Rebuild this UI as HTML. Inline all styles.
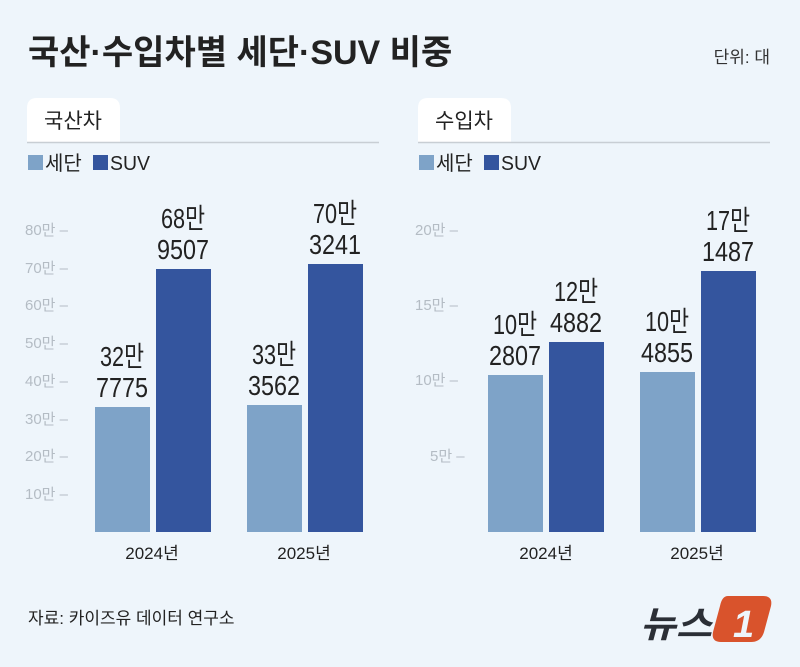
<!DOCTYPE html>
<html><head><meta charset="utf-8"><style>
body{margin:0;background:#eef5fb;}
svg text{font-family:"Liberation Sans","Noto Sans CJK KR",sans-serif;}
</style></head><body>
<svg width="800" height="662" viewBox="0 0 800 662" xmlns="http://www.w3.org/2000/svg">
<rect width="800" height="662" fill="#eef5fb"/>
<text x="28" y="64" font-size="34" font-weight="bold" fill="#222">국산·수입차별 세단·SUV 비중</text>
<text x="770" y="63" font-size="17" fill="#333" text-anchor="end">단위: 대</text>
<path d="M27 142 V108 Q27 98 37 98 H110 Q120 98 120 108 V142 Z" fill="#fff"/>
<line x1="27" y1="142.5" x2="379" y2="142.5" stroke="#c8ced4" stroke-width="1.5"/>
<text x="44" y="128" font-size="21" fill="#222">국산차</text>
<path d="M418 142 V108 Q418 98 428 98 H501 Q511 98 511 108 V142 Z" fill="#fff"/>
<line x1="418" y1="142.5" x2="770" y2="142.5" stroke="#c8ced4" stroke-width="1.5"/>
<text x="435" y="128" font-size="21" fill="#222">수입차</text>
<rect x="28" y="155" width="15" height="15" fill="#7ea3c8"/><text x="45" y="170" font-size="20" fill="#222">세단</text>
<rect x="93" y="155" width="15" height="15" fill="#34559e"/><text x="110" y="170" font-size="20" fill="#222" textLength="40" lengthAdjust="spacingAndGlyphs">SUV</text>
<rect x="419" y="155" width="15" height="15" fill="#7ea3c8"/><text x="436" y="170" font-size="20" fill="#222">세단</text>
<rect x="484" y="155" width="15" height="15" fill="#34559e"/><text x="501" y="170" font-size="20" fill="#222" textLength="40" lengthAdjust="spacingAndGlyphs">SUV</text>
<g font-size="15" fill="#b4bcc4">
<text x="25" y="235">80만 –</text><text x="25" y="273">70만 –</text><text x="25" y="310">60만 –</text><text x="25" y="348">50만 –</text><text x="25" y="386">40만 –</text><text x="25" y="424">30만 –</text><text x="25" y="461">20만 –</text><text x="25" y="499">10만 –</text>
<text x="415" y="235">20만 –</text><text x="415" y="310">15만 –</text><text x="415" y="385">10만 –</text><text x="430" y="461">5만 –</text>
</g>
<rect x="95" y="407" width="55" height="125" fill="#7ea3c8"/>
<rect x="156" y="269" width="55" height="263" fill="#34559e"/>
<rect x="247" y="405" width="55" height="127" fill="#7ea3c8"/>
<rect x="308" y="264" width="55" height="268" fill="#34559e"/>
<rect x="488" y="375" width="55" height="157" fill="#7ea3c8"/>
<rect x="549" y="342" width="55" height="190" fill="#34559e"/>
<rect x="640" y="372" width="55" height="160" fill="#7ea3c8"/>
<rect x="701" y="271" width="55" height="261" fill="#34559e"/>
<g font-size="28" fill="#222" text-anchor="middle" lengthAdjust="spacingAndGlyphs">
<text x="122" y="366" textLength="44" lengthAdjust="spacingAndGlyphs">32만</text><text x="122" y="397" textLength="52" lengthAdjust="spacingAndGlyphs">7775</text>
<text x="183" y="228" textLength="44" lengthAdjust="spacingAndGlyphs">68만</text><text x="183" y="259" textLength="52" lengthAdjust="spacingAndGlyphs">9507</text>
<text x="274" y="364" textLength="44" lengthAdjust="spacingAndGlyphs">33만</text><text x="274" y="395" textLength="52" lengthAdjust="spacingAndGlyphs">3562</text>
<text x="335" y="223" textLength="44" lengthAdjust="spacingAndGlyphs">70만</text><text x="335" y="254" textLength="52" lengthAdjust="spacingAndGlyphs">3241</text>
<text x="515" y="334" textLength="44" lengthAdjust="spacingAndGlyphs">10만</text><text x="515" y="365" textLength="52" lengthAdjust="spacingAndGlyphs">2807</text>
<text x="576" y="301" textLength="44" lengthAdjust="spacingAndGlyphs">12만</text><text x="576" y="332" textLength="52" lengthAdjust="spacingAndGlyphs">4882</text>
<text x="667" y="331" textLength="44" lengthAdjust="spacingAndGlyphs">10만</text><text x="667" y="362" textLength="52" lengthAdjust="spacingAndGlyphs">4855</text>
<text x="728" y="230" textLength="44" lengthAdjust="spacingAndGlyphs">17만</text><text x="728" y="261" textLength="52" lengthAdjust="spacingAndGlyphs">1487</text>
</g>
<g font-size="17" fill="#222" text-anchor="middle">
<text x="152" y="559">2024년</text><text x="304" y="559">2025년</text>
<text x="546" y="559">2024년</text><text x="697" y="559">2025년</text>
</g>
<text x="28" y="624" font-size="17" fill="#222">자료: 카이즈유 데이터 연구소</text>
<text x="640" y="637" font-size="36" font-weight="bold" font-style="italic" fill="#2b2f36" textLength="72" lengthAdjust="spacingAndGlyphs">뉴스</text>
<path d="M728 596 H763 Q773 596 771 606 L764 632 Q761 642 751 642 H721 Q711 642 713 632 L720 606 Q722 596 728 596 Z" fill="#d9532c"/>
<text x="733" y="637" font-size="38" font-weight="bold" font-style="italic" fill="#eef5fb">1</text>
</svg>
</body></html>
